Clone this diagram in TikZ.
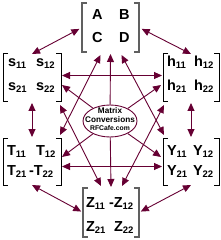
\documentclass[tikz,border=0pt]{standalone}
\usepackage{fontspec}
\setmainfont{Liberation Sans}
\usetikzlibrary{arrows.meta,shapes.geometric}
\definecolor{mar}{RGB}{102,0,51}
\definecolor{bgray}{RGB}{96,96,96}
\newcommand\msub[1]{\raisebox{-2pt}{\fontsize{9.5}{9.5}\selectfont #1}}
\newcommand\mbrk[2]{%
  \draw[#2] ([xshift=5pt]#1.north west) -- (#1.north west) -- (#1.south west) -- ([xshift=5pt]#1.south west);
  \draw[#2] ([xshift=-5pt]#1.north east) -- (#1.north east) -- (#1.south east) -- ([xshift=-5pt]#1.south east);}
\begin{document}
\begin{tikzpicture}[x=1pt,y=-1pt,
  ent/.style={anchor=base west,inner sep=0pt,outer sep=0pt,font=\bfseries\fontsize{14.5}{14.5}\selectfont},
  frm/.style={rectangle,inner sep=0pt,outer sep=0pt},
  gbr/.style={draw=bgray,line width=1.6pt},
  kbr/.style={draw=black,line width=1pt},
  tipa/.tip={Triangle[length=8pt,width=7pt]},
  dbl/.style={draw=mar,line width=0.9pt,tipa-tipa},
  one/.style={draw=mar,line width=0.9pt,-tipa},
  etxt/.style={align=center,inner sep=0pt,font=\bfseries\fontsize{8.2}{8.5}\selectfont}]
\useasboundingbox (0,0) rectangle (221,240);
% frames
\node[frm,minimum width=57pt,minimum height=49pt] (ABCD) at (110.5,27.5) {};
\node[frm,minimum width=58pt,minimum height=48pt] (s) at (32,78) {};
\node[frm,minimum width=56pt,minimum height=48pt] (h) at (191,78) {};
\node[frm,minimum width=58pt,minimum height=47pt] (T) at (32,161.5) {};
\node[frm,minimum width=56pt,minimum height=47pt] (Y) at (191,161.5) {};
\node[frm,minimum width=56pt,minimum height=49pt] (Z) at (111,212.5) {};
\mbrk{ABCD}{gbr}
\mbrk{Z}{gbr}
\mbrk{s}{kbr}
\mbrk{h}{kbr}
\mbrk{T}{kbr}
\mbrk{Y}{kbr}
% entries
\node[ent] (eA) at (92,19.5) {A};
\node[ent] (eB) at (119,19.5) {B};
\node[ent] (eC) at (92,42.5) {C};
\node[ent] (eD) at (119,42.5) {D};
\node[ent] (s11) at (8,67) {s\msub{11}};
\node[ent] (s12) at (36,67) {s\msub{12}};
\node[ent] (s21) at (8,91) {s\msub{21}};
\node[ent] (s22) at (36,91) {s\msub{22}};
\node[ent] (h11) at (167,67) {h\msub{11}};
\node[ent] (h12) at (194,67) {h\msub{12}};
\node[ent] (h21) at (167,91) {h\msub{21}};
\node[ent] (h22) at (194,91) {h\msub{22}};
\node[ent] (T11) at (7,155) {T\msub{11}};
\node[ent] (T12) at (36,155) {T\msub{12}};
\node[ent] (T21) at (7,175) {T\msub{21}};
\node[ent] (T22) at (29,175) {-T\msub{22}};
\node[ent] (Y11) at (167,155) {Y\msub{11}};
\node[ent] (Y12) at (193,155) {Y\msub{12}};
\node[ent] (Y21) at (167,175) {Y\msub{21}};
\node[ent] (Y22) at (193,175) {Y\msub{22}};
\node[ent] (Z11) at (86,207) {Z\msub{11}};
\node[ent] (Z12) at (109,207) {-Z\msub{12}};
\node[ent] (Z21) at (86,231) {Z\msub{21}};
\node[ent] (Z22) at (114,231) {Z\msub{22}};
% center ellipse
\node[ellipse,draw=mar,line width=0.9pt,minimum width=54pt,minimum height=32pt,inner sep=0pt] (E) at (110,121) {};
\node[etxt] (Et) at (110,119.5) {Matrix\\Conversions\\{\fontsize{6.8}{8}\selectfont RFCafe.com}};
% outer ring
\draw[dbl,shorten >=3pt] (s.north) -- (ABCD.west);
\draw[dbl,shorten >=3pt] (h.north) -- (ABCD.east);
\draw[dbl,shorten <=1pt,shorten >=1pt] (s.south) -- (T.north);
\draw[dbl,shorten <=1pt,shorten >=1pt] (h.south) -- (Y.north);
\draw[dbl,shorten >=2pt] (T.south) -- (Z.west);
\draw[dbl,shorten >=2pt] (Y.south) -- (Z.east);
\draw[dbl,shorten <=1pt,shorten >=1pt] ([yshift=2.5pt]s.east) -- ([yshift=2.5pt]h.west);
\draw[dbl,shorten <=1pt,shorten >=1pt] ([yshift=-5pt]T.east) -- ([yshift=-5pt]Y.west);
% long diagonals
\draw[dbl] ([xshift=-1pt,yshift=3pt]T.north east) -- ([xshift=-10pt,yshift=-3pt]ABCD.south);
\draw[dbl] ([xshift=-1pt,yshift=-3pt]s.south east) -- ([xshift=-10pt,yshift=2pt]Z.north);
\draw[dbl] ([xshift=1pt,yshift=3pt]Y.north west) -- ([xshift=11pt,yshift=-3pt]ABCD.south);
\draw[dbl] ([xshift=1pt,yshift=-3pt]h.south west) -- ([xshift=11pt,yshift=2pt]Z.north);
% from the ellipse
\draw[one] (E) -- ([yshift=-2pt]ABCD.south);
\draw[one] (E) -- ([yshift=1pt]Z.north);
\draw[one] (E) -- ([xshift=1pt,yshift=-7pt]s.east);
\draw[one] (E) -- ([xshift=-2pt,yshift=-7pt]h.west);
\draw[one] (E) -- ([xshift=1pt,yshift=4.5pt]T.east);
\draw[one] (E) -- ([xshift=-2pt,yshift=4.5pt]Y.west);
\end{tikzpicture}
\end{document}
